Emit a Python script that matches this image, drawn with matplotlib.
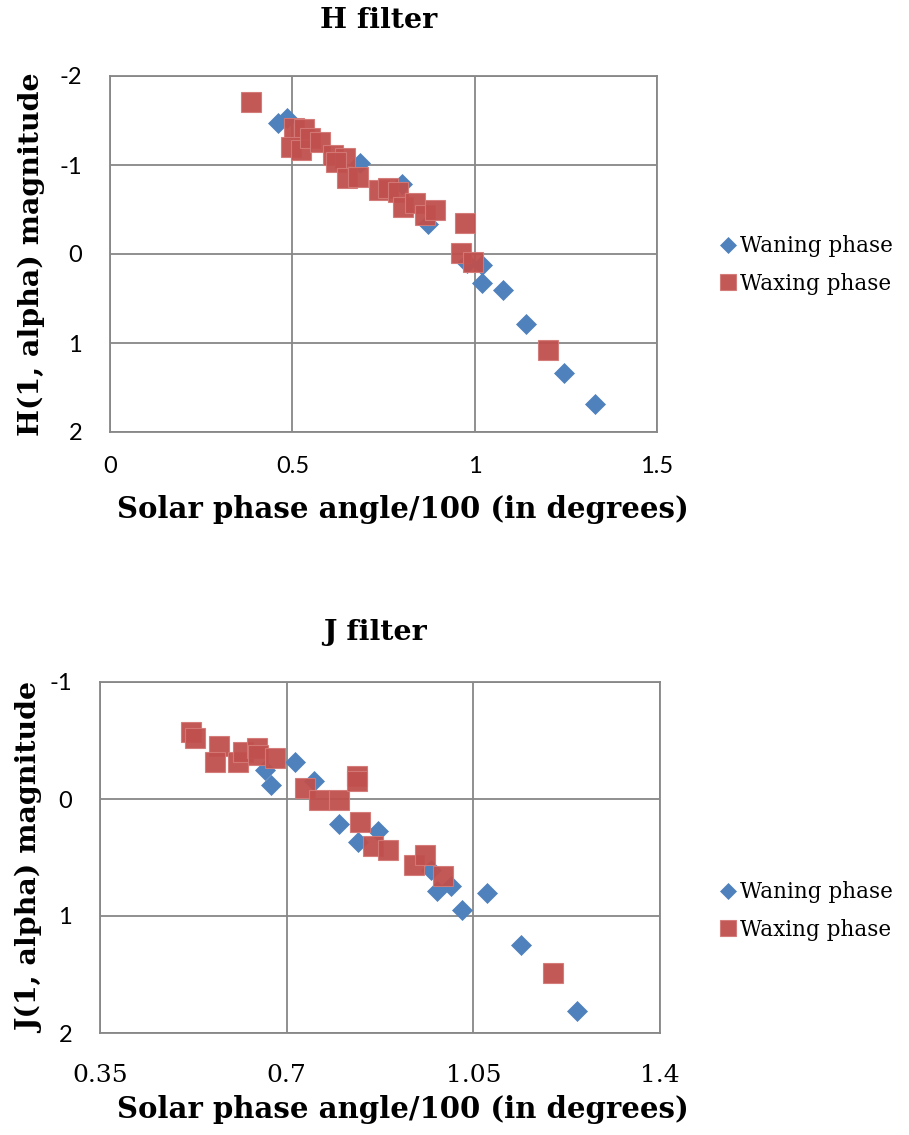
import matplotlib
matplotlib.use("Agg")
import matplotlib.pyplot as plt
from matplotlib.ticker import FixedLocator

# ---------------- data ----------------
h_waning_x = [0.46, 0.485, 0.685, 0.80, 0.871, 0.978, 1.02, 1.02, 1.077, 1.14, 1.244, 1.33]
h_waning_y = [-1.47, -1.53, -1.02, -0.79, -0.34, 0.10, 0.12, 0.33, 0.40, 0.79, 1.34, 1.69]

h_waxing_x = [0.386, 0.504, 0.532, 0.496, 0.523, 0.548, 0.575, 0.611, 0.644, 0.619, 0.649,
              0.679, 0.737, 0.762, 0.789, 0.803, 0.836, 0.863, 0.890, 0.973, 0.962, 0.995, 1.20]
h_waxing_y = [-1.71, -1.42, -1.40, -1.20, -1.17, -1.30, -1.26, -1.11, -1.08, -1.03, -0.85,
              -0.87, -0.72, -0.74, -0.70, -0.53, -0.57, -0.44, -0.49, -0.35, -0.01, 0.09, 1.08]

j_waning_x = [0.66, 0.67, 0.715, 0.751, 0.798, 0.833, 0.871, 0.97, 0.982, 1.008, 1.029, 1.076, 1.14, 1.245]
j_waning_y = [-0.25, -0.12, -0.32, -0.15, 0.21, 0.37, 0.27, 0.61, 0.79, 0.74, 0.95, 0.80, 1.25, 1.81]

j_waxing_x = [0.521, 0.529, 0.574, 0.566, 0.608, 0.619, 0.645, 0.647, 0.679, 0.734, 0.76,
              0.798, 0.832, 0.832, 0.837, 0.862, 0.89, 0.939, 0.959, 0.993, 1.20]
j_waxing_y = [-0.573, -0.52, -0.45, -0.32, -0.32, -0.40, -0.44, -0.38, -0.35, -0.09, 0.01,
              0.01, -0.20, -0.15, 0.20, 0.40, 0.44, 0.56, 0.48, 0.66, 1.49]

h_xticks = [0, 0.5, 1, 1.5]
h_xticklabels = ["0", "0.5", "1", "1.5"]
h_yticks = [-2, -1, 0, 1, 2]
j_xticks = [0.35, 0.7, 1.05, 1.4]
j_xticklabels = ["0.35", "0.7", "1.05", "1.4"]
j_yticks = [-1, 0, 1, 2]

series_labels = ["Waning phase", "Waxing phase"]

# ---------------- style ----------------
BLUE = "#4F81BD"
RED = "#C0504D"
GRID = "#878787"
SERIF = ["DejaVu Serif"]
SANS = ["Lato", "DejaVu Sans"]

fig = plt.figure(figsize=(9.09, 11.35), dpi=100)

def make_panel(rect, wx, wy, xx, xy, xticks, xticklabels, yticks, xlim, ylim,
               title, ylabel, xtick_font, xtick_size, title_y, xlabel_y, legend_y, xtick_pad):
    ax = fig.add_axes(rect)
    ax.plot(wx, wy, linestyle="none", marker="D", markersize=10.2, color=BLUE,
            markeredgecolor=BLUE, markeredgewidth=0.5, label=series_labels[0], zorder=3)
    ax.plot(xx, xy, linestyle="none", marker="s", markersize=14.5, color=RED,
            markeredgecolor="#D47A77", markeredgewidth=0.8, alpha=0.95,
            label=series_labels[1], zorder=4)
    ax.set_xlim(*xlim)
    ax.set_ylim(*ylim)
    ax.xaxis.set_major_locator(FixedLocator(xticks))
    ax.set_xticklabels(xticklabels, fontsize=xtick_size, family=xtick_font)
    ax.yaxis.set_major_locator(FixedLocator(yticks))
    ax.set_yticklabels([str(t) for t in yticks], fontsize=17, family=SANS)
    ax.tick_params(length=0, pad=xtick_pad, axis="x")
    ax.tick_params(length=0, pad=20, axis="y")
    ax.grid(True, color=GRID, linewidth=1.3, zorder=0)
    ax.set_axisbelow(True)
    for s in ax.spines.values():
        s.set_color(GRID)
        s.set_linewidth(1.3)
    fig.text(rect[0] + rect[2] * 0.5 - 0.005, title_y, title, ha="center", va="center",
             fontsize=20.5, fontweight="bold", family=SERIF)
    fig.text(0.443, xlabel_y, "Solar phase angle/100 (in degrees)", ha="center", va="center",
             fontsize=21, fontweight="bold", family=SERIF)
    fig.text(0.034, rect[1] + rect[3] * 0.5, ylabel, ha="center", va="center",
             rotation=90, fontsize=20.5, fontweight="bold", family=SERIF)
    ax.legend(loc="center left", bbox_to_anchor=(0.78, legend_y), bbox_transform=fig.transFigure,
              frameon=False, prop={"family": SERIF, "size": 15.5}, handlelength=0.8,
              handletextpad=0.12, labelspacing=0.7, markerscale=0.75, borderpad=0)
    return ax

# H panel: axes from px (110,76) to (657,432)
make_panel([110 / 909, 1 - 432 / 1135, 547 / 909, 356 / 1135],
           h_waning_x, h_waning_y, h_waxing_x, h_waxing_y,
           h_xticks, h_xticklabels, h_yticks, (0, 1.5), (2, -2),
           "H filter", "H(1, alpha) magnitude", SANS, 17,
           1 - 20 / 1135, 1 - 510 / 1135, 1 - 265 / 1135, 17)

# J panel: axes from px (100,682) to (660,1033)
make_panel([100 / 909, 1 - 1033 / 1135, 560 / 909, 351 / 1135],
           j_waning_x, j_waning_y, j_waxing_x, j_waxing_y,
           j_xticks, j_xticklabels, j_yticks, (0.35, 1.4), (2, -1),
           "J filter", "J(1, alpha) magnitude", SERIF, 18,
           1 - 632 / 1135, 1 - 1110 / 1135, 1 - 911 / 1135, 22)

fig.savefig("out.png", dpi=100)
